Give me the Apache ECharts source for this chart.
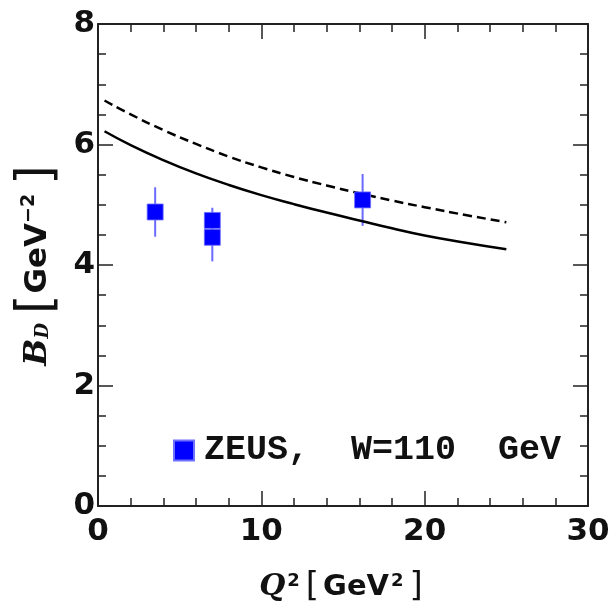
<!DOCTYPE html>
<html>
<head>
<meta charset="utf-8">
<script src="https://cdn.jsdelivr.net/npm/echarts@6/dist/echarts.min.js"></script>
<style>
  html, body { margin: 0; padding: 0; background: #fff; }
  #chart { width: 615px; height: 609px; }
</style>
</head>
<body>
<div id="chart"></div>
<script>
// model curves
const solidQ2 = [0.4, 2, 4, 6, 8, 10, 12, 14, 16, 18, 20, 22.5, 25];
const solidB = [6.22, 5.99, 5.74, 5.52, 5.33, 5.16, 5.01, 4.87, 4.74, 4.61, 4.49, 4.37, 4.26];
const dashedQ2 = [0.4, 2, 4, 6, 8, 10, 12, 14, 16, 18, 20, 22.5, 25];
const dashedB = [6.73, 6.50, 6.24, 6.01, 5.80, 5.62, 5.46, 5.32, 5.19, 5.07, 4.96, 4.83, 4.71];

// ZEUS data
const zeusQ2 = [3.5, 7.0, 7.0, 16.2];
const zeusB = [4.88, 4.74, 4.46, 5.08];
const zeusErr = [0.41, 0.21, 0.40, 0.43];

const zeusName = 'ZEUS,  W=110  GeV';

const chart = echarts.init(document.getElementById('chart'), null, {renderer: 'canvas'});

const frameColor = '#222';
const tickFont = {
    fontFamily: 'DejaVu Sans',
    fontWeight: 'bold',
    fontSize: 31,
    color: '#111'
};

function frameAxis(extra) {
    return Object.assign({
        axisLine: {show: true, onZero: false, lineStyle: {color: frameColor, width: 2}},
        axisTick: {show: true, inside: true, length: 15, lineStyle: {color: frameColor, width: 1.5}},
        splitLine: {show: false}
    }, extra);
}

const option = {
    animation: false,
    grid: {left: 98, right: 27, top: 24, bottom: 96},
    legend: {
        left: 173,
        top: 433,
        padding: 0,
        icon: 'rect',
        itemWidth: 20,
        itemHeight: 20,
        data: [zeusName],
        textStyle: {
            fontFamily: 'Liberation Mono',
            fontWeight: 'bold',
            fontSize: 35,
            color: '#111',
            padding: [0, 0, 0, 5]
        }
    },
    xAxis: [
        frameAxis({
            type: 'value', min: 0, max: 30, interval: 10,
            minorTick: {show: true, splitNumber: 5, length: 8, lineStyle: {color: frameColor, width: 1.5}},
            axisLabel: Object.assign({margin: 10}, tickFont),
            name: '{q|Q}{s|2}{br|[}{t|GeV}{s|2}{br|]}',
            nameLocation: 'middle',
            nameGap: 64,
            nameTextStyle: {
                rich: {
                    q: {fontFamily: 'DejaVu Serif', fontStyle: 'italic', fontWeight: 'bold', fontSize: 30, color: '#111'},
                    br: {fontFamily: 'DejaVu Sans', fontSize: 34, color: '#111', padding: [0, 4, 0, 4]},
                    t: {fontFamily: 'DejaVu Sans', fontWeight: 'bold', fontSize: 29, color: '#111'},
                    s: {fontFamily: 'DejaVu Sans', fontWeight: 'bold', fontSize: 18, color: '#111', padding: [0, 2, 12, 2]}
                }
            }
        }),
        frameAxis({
            type: 'value', min: 0, max: 30, interval: 10, position: 'top',
            minorTick: {show: true, splitNumber: 5, length: 8, lineStyle: {color: frameColor, width: 1.5}},
            axisLabel: {show: false}
        })
    ],
    yAxis: [
        frameAxis({
            type: 'value', min: 0, max: 8, interval: 2,
            minorTick: {show: true, splitNumber: 4, length: 8, lineStyle: {color: frameColor, width: 1.5}},
            axisLabel: Object.assign({margin: 3}, tickFont),
            name: '{b|B}{d|D}{br|[}{t|GeV}{s|−2}{br|]}',
            nameLocation: 'middle',
            nameGap: 34,
            nameRotate: 90,
            nameTextStyle: {
                rich: {
                    b: {fontFamily: 'DejaVu Serif', fontStyle: 'italic', fontWeight: 'bold', fontSize: 32, color: '#111'},
                    d: {fontFamily: 'DejaVu Serif', fontStyle: 'italic', fontWeight: 'bold', fontSize: 18, color: '#111', padding: [12, 0, 0, 0]},
                    br: {fontFamily: 'DejaVu Sans', fontSize: 50, color: '#111', padding: [0, 1, 0, 9]},
                    t: {fontFamily: 'DejaVu Sans', fontWeight: 'bold', fontSize: 31, color: '#111'},
                    s: {fontFamily: 'DejaVu Sans', fontWeight: 'bold', fontSize: 19, color: '#111', padding: [0, 0, 16, 0]}
                }
            }
        }),
        frameAxis({
            type: 'value', min: 0, max: 8, interval: 2, position: 'right',
            minorTick: {show: true, splitNumber: 4, length: 8, lineStyle: {color: frameColor, width: 1.5}},
            axisLabel: {show: false}
        })
    ],
    series: [
        {
            name: 'solid',
            type: 'line',
            smooth: true,
            showSymbol: false,
            lineStyle: {color: '#000', width: 2.5},
            data: solidQ2.map((q, i) => [q, solidB[i]])
        },
        {
            name: 'dashed',
            type: 'line',
            smooth: true,
            showSymbol: false,
            lineStyle: {color: '#000', width: 2.5, type: [9, 5]},
            data: dashedQ2.map((q, i) => [q, dashedB[i]])
        },
        {
            name: 'err',
            type: 'custom',
            data: zeusQ2.map((q, i) => [q, zeusB[i] - zeusErr[i], zeusB[i] + zeusErr[i]]),
            renderItem: function (params, api) {
                const lo = api.coord([api.value(0), api.value(1)]);
                const hi = api.coord([api.value(0), api.value(2)]);
                return {
                    type: 'line',
                    shape: {x1: lo[0], y1: lo[1], x2: hi[0], y2: hi[1]},
                    style: {stroke: '#6a6aff', lineWidth: 2}
                };
            },
            z: 3
        },
        {
            name: zeusName,
            type: 'scatter',
            symbol: 'rect',
            symbolSize: 16,
            itemStyle: {color: '#0000ff', opacity: 1, borderColor: '#7070ff', borderWidth: 0.8},
            data: zeusQ2.map((q, i) => [q, zeusB[i]]),
            z: 4
        }
    ]
};

chart.setOption(option);
</script>
</body>
</html>
